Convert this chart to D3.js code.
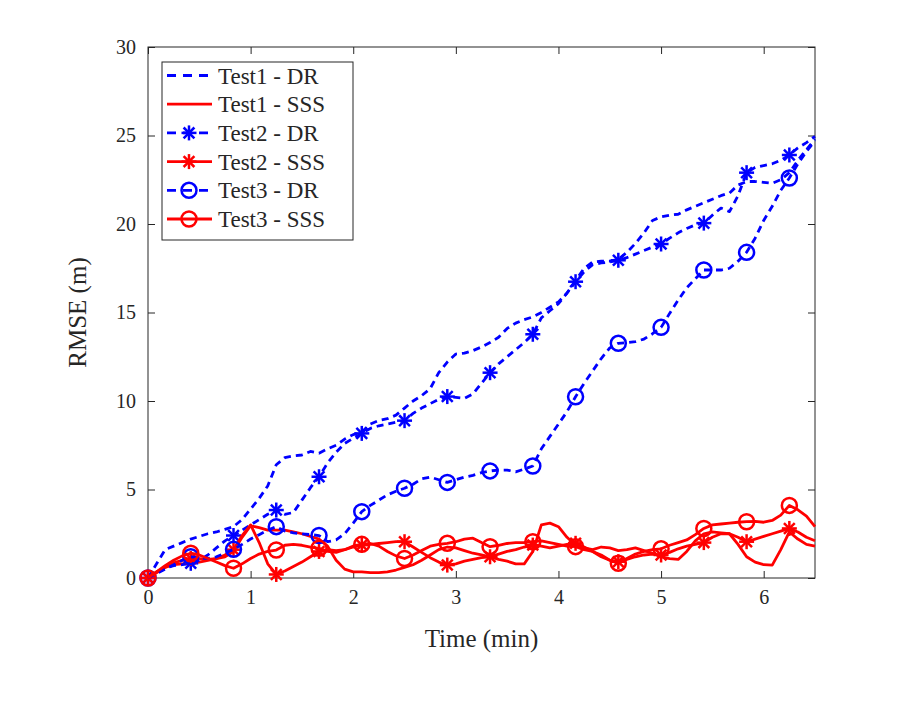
<!DOCTYPE html>
<html>
<head>
<meta charset="utf-8">
<script src="https://cdn.jsdelivr.net/npm/d3@7"></script>
<style>
body { margin: 0; background: #fff; }
text { font-family: "Liberation Serif", "Times New Roman", serif; fill: #262626; }
</style>
</head>
<body>
<div class="container"></div>
<script>
// samples every 5 s, markers every 25 s
var seconds = d3.range(0, 395, 5);
var markerEvery = 5;

var test1DR = [0, 0.8, 1.6, 1.8, 2.0, 2.2, 2.35, 2.5, 2.6, 2.75, 2.9, 3.3, 3.9, 4.5, 5.2, 6.4, 6.8, 6.9, 6.95, 7.15,
	7.05, 7.3, 7.5, 7.85, 8.1, 8.25, 8.7, 8.9, 9.0, 9.2, 9.6, 10.0, 10.3, 10.7, 11.6, 12.2, 12.65, 12.7, 12.85, 13.05,
	13.3, 13.6, 14.1, 14.4, 14.6, 14.75, 15.0, 15.3, 15.6, 16.1, 16.8, 17.5, 17.85, 17.9, 17.9, 18.0, 18.4, 18.9, 19.5, 20.2,
	20.4, 20.5, 20.55, 20.8, 21.0, 21.2, 21.4, 21.6, 21.75, 22.2, 22.4, 22.4, 22.35, 22.3, 22.5, 22.9, 23.6, 24.2, 24.8];
var test1SSS = [0, 0.35, 0.6, 0.75, 0.8, 0.85, 0.9, 1.0, 1.1, 1.2, 1.5, 2.3, 2.95, 2.85, 2.7, 2.7, 2.7, 2.6, 2.5, 2.35,
	2.2, 1.8, 1.0, 0.5, 0.35, 0.35, 0.3, 0.3, 0.35, 0.45, 0.6, 0.75, 1.0, 1.3, 1.6, 1.75, 1.7, 1.55, 1.4, 1.3,
	1.2, 1.05, 0.95, 0.8, 0.8, 1.5, 3.0, 3.1, 2.9, 2.3, 1.85, 1.7, 1.6, 1.75, 1.7, 1.55, 1.6, 1.7, 1.55, 1.4,
	1.2, 1.1, 1.05, 1.5, 2.1, 2.5, 2.6, 2.55, 2.5, 1.9, 1.2, 0.9, 0.75, 0.73, 1.6, 2.6, 2.2, 1.9, 1.8];
var test2DR = [0, 0.3, 0.55, 0.7, 0.75, 0.83, 1.0, 1.3, 1.7, 2.1, 2.4, 2.7, 3.0, 3.3, 3.6, 3.84, 3.6, 3.7, 4.4, 5.1,
	5.72, 6.5, 7.1, 7.6, 7.9, 8.17, 8.45, 8.6, 8.7, 8.8, 8.89, 9.3, 9.6, 9.85, 10.1, 10.25, 10.2, 10.15, 10.4, 11.0,
	11.6, 12.1, 12.5, 12.9, 13.3, 13.77, 14.7, 15.1, 15.5, 16.1, 16.74, 17.3, 17.7, 17.8, 17.85, 17.95, 18.1, 18.3, 18.5, 18.7,
	18.87, 19.2, 19.5, 19.75, 19.95, 20.05, 20.5, 20.9, 20.7, 21.6, 22.9, 23.2, 23.3, 23.4, 23.6, 23.9, 24.3, 24.6, 24.95];
var test2SSS = [0, 0.3, 0.6, 0.85, 1.0, 1.1, 1.1, 1.05, 1.1, 1.3, 1.6, 2.4, 3.0, 2.0, 0.8, 0.2, 0.4, 0.65, 0.9, 1.2,
	1.5, 1.6, 1.55, 1.6, 1.75, 1.86, 1.9, 1.95, 2.0, 2.05, 2.05, 1.75, 1.45, 1.15, 0.9, 0.73, 0.8, 0.95, 1.05, 1.15,
	1.2, 1.35, 1.5, 1.6, 1.75, 1.86, 1.8, 1.7, 1.8, 1.9, 1.96, 1.75, 1.5, 1.2, 1.0, 0.92, 1.05, 1.2, 1.3, 1.35,
	1.3, 1.45, 1.65, 1.8, 1.9, 2.0, 2.3, 2.5, 2.5, 2.3, 2.05, 2.2, 2.35, 2.5, 2.65, 2.8, 2.6, 2.3, 2.1];
var test3DR = [0, 0.25, 0.5, 0.75, 1.0, 1.2, 1.15, 1.1, 1.2, 1.4, 1.62, 1.9, 2.2, 2.45, 2.7, 2.9, 2.65, 2.55, 2.5, 2.45,
	2.4, 2.05, 2.15, 2.5, 3.1, 3.75, 4.1, 4.4, 4.7, 4.9, 5.07, 5.3, 5.6, 5.7, 5.55, 5.4, 5.55, 5.7, 5.8, 5.95,
	6.05, 6.1, 6.1, 6.0, 6.15, 6.33, 7.3, 8.0, 8.7, 9.4, 10.24, 11.0, 11.7, 12.4, 13.0, 13.26, 13.3, 13.35, 13.5, 13.8,
	14.16, 14.95, 15.7, 16.4, 16.9, 17.4, 17.4, 17.4, 17.5, 17.9, 18.4, 19.2, 20.2, 21.0, 21.9, 22.6, 23.4, 24.1, 24.7];
var test3SSS = [0, 0.35, 0.7, 1.0, 1.25, 1.4, 1.3, 1.1, 0.9, 0.7, 0.55, 0.8, 1.1, 1.35, 1.5, 1.58, 1.85, 1.9, 1.85, 1.75,
	1.68, 1.5, 1.45, 1.6, 1.8, 1.9, 1.95, 1.8, 1.5, 1.25, 1.1, 1.3, 1.55, 1.8, 1.9, 1.96, 2.05, 2.2, 2.25, 2.0,
	1.77, 1.85, 1.95, 2.0, 2.0, 2.05, 2.1, 2.0, 1.9, 1.8, 1.77, 1.6, 1.5, 1.3, 1.0, 0.83, 1.1, 1.35, 1.5, 1.6,
	1.65, 1.85, 2.0, 2.15, 2.45, 2.8, 3.0, 3.05, 3.1, 3.15, 3.18, 3.2, 3.15, 3.25, 3.55, 4.1, 3.85, 3.5, 2.9];

var xTicks = [0, 1, 2, 3, 4, 5, 6];
var yTicks = [0, 5, 10, 15, 20, 25, 30];
var seriesNames = ['Test1 - DR', 'Test1 - SSS', 'Test2 - DR', 'Test2 - SSS', 'Test3 - DR', 'Test3 - SSS'];

var series = [
	{name: seriesNames[0], values: test1DR, color: '#0000ff', dash: true, marker: null},
	{name: seriesNames[1], values: test1SSS, color: '#ff0000', dash: false, marker: null},
	{name: seriesNames[2], values: test2DR, color: '#0000ff', dash: true, marker: 'star'},
	{name: seriesNames[3], values: test2SSS, color: '#ff0000', dash: false, marker: 'star'},
	{name: seriesNames[4], values: test3DR, color: '#0000ff', dash: true, marker: 'circle'},
	{name: seriesNames[5], values: test3SSS, color: '#ff0000', dash: false, marker: 'circle'}
];

var WIDTH = 905, HEIGHT = 705;
var LEFT = 148, TOP = 47, PW = 667, PH = 531;
var FONT = '"Liberation Serif", "Times New Roman", serif';

var svg = d3.select('.container').append('svg')
	.attr('width', WIDTH)
	.attr('height', HEIGHT);

var xScale = d3.scaleLinear().domain([0, 6.5]).range([0, PW]);
var yScale = d3.scaleLinear().domain([0, 30]).range([PH, 0]);

var plot = svg.append('g').attr('transform', 'translate(' + LEFT + ',' + TOP + ')');

var styleAxis = function(g, labels) {
	g.attr('font-family', FONT);
	g.select('.domain').remove();
	g.selectAll('.tick line').attr('stroke', '#262626').attr('stroke-width', 1);
	g.selectAll('.tick text').attr('font-size', 20).attr('fill', '#262626');
	if (!labels) g.selectAll('.tick text').remove();
};

plot.append('g').attr('transform', 'translate(0,' + PH + ')')
	.call(d3.axisBottom(xScale).tickValues(xTicks).tickFormat(d3.format('d')).tickSize(-7).tickPadding(12))
	.call(styleAxis, true);
plot.append('g')
	.call(d3.axisTop(xScale).tickValues(xTicks).tickSize(-7))
	.call(styleAxis, false);
plot.append('g')
	.call(d3.axisLeft(yScale).tickValues(yTicks).tickFormat(d3.format('d')).tickSize(-7).tickPadding(12))
	.call(styleAxis, true);
plot.append('g').attr('transform', 'translate(' + PW + ',0)')
	.call(d3.axisRight(yScale).tickValues(yTicks).tickSize(-7))
	.call(styleAxis, false);

plot.append('rect')
	.attr('x', 0).attr('y', 0).attr('width', PW).attr('height', PH)
	.attr('fill', 'none').attr('stroke', '#262626').attr('stroke-width', 1);

var line = d3.line()
	.x(function(d, i) { return xScale(seconds[i] / 60); })
	.y(function(d) { return yScale(d); });

var drawMarker = function(g, type, color, cx, cy) {
	if (type === 'circle') {
		g.append('circle').attr('cx', cx).attr('cy', cy).attr('r', 7.5)
			.attr('fill', 'none').attr('stroke', color).attr('stroke-width', 2.5);
	} else if (type === 'star') {
		var r = 7.5, q = r * 0.72;
		var segs = [[-r, 0, r, 0], [0, -r, 0, r], [-q, -q, q, q], [-q, q, q, -q]];
		segs.forEach(function(s) {
			g.append('line')
				.attr('x1', cx + s[0]).attr('y1', cy + s[1])
				.attr('x2', cx + s[2]).attr('y2', cy + s[3])
				.attr('stroke', color).attr('stroke-width', 2.5);
		});
	}
};

series.forEach(function(s) {
	plot.append('path')
		.datum(s.values)
		.attr('d', line)
		.attr('fill', 'none')
		.attr('stroke', s.color)
		.attr('stroke-width', 2.8)
		.attr('stroke-linejoin', 'round')
		.attr('stroke-dasharray', s.dash ? '7,5' : null);

	if (s.marker) {
		var mg = plot.append('g');
		s.values.forEach(function(v, i) {
			if (i % markerEvery === 0) drawMarker(mg, s.marker, s.color, xScale(seconds[i] / 60), yScale(v));
		});
	}
});

// axis labels
svg.append('text')
	.attr('x', LEFT + PW / 2).attr('y', 647)
	.attr('text-anchor', 'middle')
	.attr('font-family', FONT)
	.attr('font-size', 25)
	.text('Time (min)');

svg.append('text')
	.attr('transform', 'translate(86,' + (TOP + PH / 2) + ') rotate(-90)')
	.attr('text-anchor', 'middle')
	.attr('font-family', FONT)
	.attr('font-size', 25)
	.text('RMSE (m)');

// legend
var legend = svg.append('g').attr('transform', 'translate(162,62)');
legend.append('rect')
	.attr('width', 191).attr('height', 178)
	.attr('fill', '#fff').attr('stroke', '#262626').attr('stroke-width', 1);

series.forEach(function(s, i) {
	var cy = 13.5 + i * 28.7;
	var row = legend.append('g');
	row.append('line')
		.attr('x1', 5).attr('x2', 50).attr('y1', cy).attr('y2', cy)
		.attr('stroke', s.color).attr('stroke-width', 2.8)
		.attr('stroke-dasharray', s.dash ? '9,7' : null);
	if (s.marker) drawMarker(row, s.marker, s.color, 27, cy);
	row.append('text')
		.attr('x', 56).attr('y', cy).attr('dy', '0.35em')
		.attr('font-family', FONT)
		.attr('font-size', 23)
		.text(s.name);
});
</script>
</body>
</html>
